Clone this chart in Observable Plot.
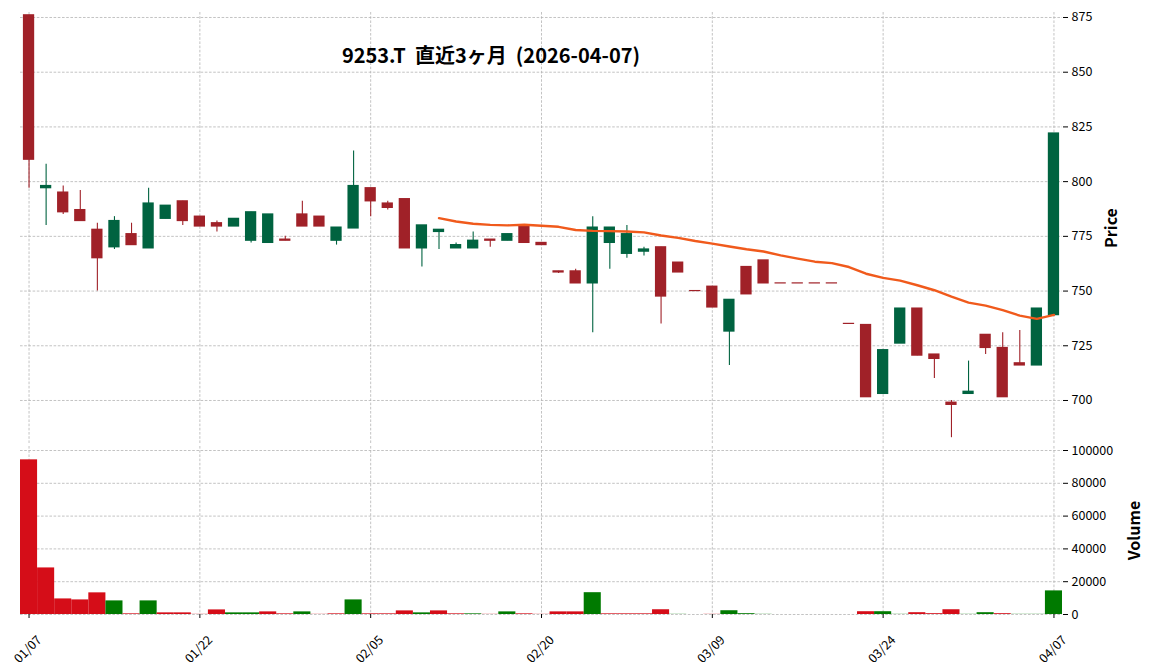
<!DOCTYPE html>
<html><head><meta charset="utf-8">
<script src="https://cdn.jsdelivr.net/npm/d3@7"></script>
<script src="https://cdn.jsdelivr.net/npm/@observablehq/plot@0.6"></script>
<style>
body{margin:0;background:#fff;}
#wrap{position:relative;width:1152px;height:670px;font-family:"Noto Sans CJK JP","Noto Sans",sans-serif;background:#fff;}
#title{position:absolute;left:491px;top:40px;transform:translateX(-50%);font-size:20px;font-weight:bold;white-space:pre;color:#000;line-height:30px;}
#price{position:absolute;left:0;top:0;}
#vol{position:absolute;left:0;top:446px;}
</style></head><body>
<div id="wrap"><div id="price"></div><div id="vol"></div><div id="title">9253.T  直近3ヶ月  (2026-04-07)</div></div>
<script>
const dates = ["01/07","01/08","01/09","01/13","01/14","01/15","01/16","01/19","01/20","01/21",
  "01/22","01/23","01/26","01/27","01/28","01/29","01/30","02/02","02/03","02/04",
  "02/05","02/06","02/09","02/10","02/12","02/13","02/16","02/17","02/18","02/19",
  "02/20","02/24","02/25","02/26","02/27","03/02","03/03","03/04","03/05","03/06",
  "03/09","03/10","03/11","03/12","03/13","03/16","03/17","03/18","03/19","03/23",
  "03/24","03/25","03/26","03/27","03/30","03/31","04/01","04/02","04/03","04/06","04/07"];
const open = [876,797,795,787,778,770,776,769.5,783,791,
  784,781,779.5,773,772,773.5,785,784,773,778.6,
  797,790,792,769.5,777,769.5,769.5,773.5,773,780,
  772,759,759,753.5,772,767,768,770,763,750,
  752,731.5,761,764,753.5,753.5,753.5,753.5,735,734.5,
  703,726,742,721,699,703,730,724,717,716,739];
const high = [876,808,798,796,781,784,781,797,789,791,
  784,782,783,786,785,775,791,784,779,814,
  797,791,792,780,778,772,777,773.5,776,780,
  772,759,760,784,779,780,770,770,763,750,
  752,746,761,764,753.5,753.5,753.5,753.5,735,734.5,
  723,742,742,721,700,718,730,731,732,742,822];
const low = [797,780,785,782,750,769,771,769.5,783,780,
  779.5,777,779.5,772,772,773,779.5,779.5,771,778.6,
  784,787,769.5,761,769,769.5,769.5,770,773,772,
  771,758,753.5,731,760,765,766,735,758.5,750,
  742.5,716,748.5,753.5,753.5,753.5,753.5,753.5,735,701.5,
  703,726,720.5,710,683,703,721,701.5,716,716,739];
const close = [810,798,786,782,765,782,771,790,789,782,
  779.5,779.5,783,786,785,773,779.5,779.5,779,798,
  791,788,769.5,780,778,771,773,773,776,772,
  771,758.5,753.5,779,779,776,769,747.5,758.5,750,
  742.5,746,748.5,753.5,753.5,753.5,753.5,753.5,735,701.5,
  723,742,720.5,719,698,704,724,701.5,716,742,822];
const volume = [94300,28400,9500,8900,13200,8300,400,8300,1000,1000,
  100,2800,1000,1000,1600,400,1600,100,400,8900,
  400,400,2200,1000,2200,400,400,100,1600,400,
  100,1600,1600,13300,400,400,400,2900,100,0,
  100,2300,500,100,0,0,0,0,0,1700,
  1700,100,1100,500,2900,100,1100,500,100,100,14400];
const mavPeriod = 25;
const tickIdx = [0,10,20,30,40,50,60];
const priceTicks = [700,725,750,775,800,825,850,875];
const volTicks = [0,20000,40000,60000,80000,100000];

const UP = "#006340", DOWN = "#A02128", VUP = "#007a00", VDOWN = "#d50d18", MAC = "#f05a1c";
const rows = dates.map((d, i) => ({
  i, date: d, o: open[i], h: high[i], l: low[i], c: close[i], v: volume[i],
  col: open[i] < close[i] ? UP : DOWN,
  vcol: (i === 0 ? open[0] < close[0] : close[i - 1] < close[i]) ? VUP : VDOWN
}));
const maRows = rows.filter(r => r.i >= mavPeriod - 1).map(r => ({
  i: r.i, ma: d3.mean(close.slice(r.i - mavPeriod + 1, r.i + 1))
}));

const font = {fontFamily: '"Noto Sans CJK JP","Noto Sans",sans-serif', fontSize: "12.5px", color: "#000", background: "transparent", overflow: "visible"};
const xScale = {type: "linear", domain: [-0.5, 60.5], range: [20, 1062], axis: null};
const grid = {stroke: "#b4b4b4", strokeDasharray: "2.6,1.6", strokeWidth: 0.8, strokeOpacity: 1};

const price = Plot.plot({
  width: 1152, height: 446,
  marginLeft: 20, marginRight: 90, marginTop: 12, marginBottom: 3,
  style: font,
  x: xScale,
  y: {domain: [680.35, 877.28], axis: null},
  marks: [
    Plot.ruleY(priceTicks, grid),
    Plot.ruleX(tickIdx, grid),
    Plot.ruleX(rows, {x: "i", y1: "l", y2: "h", stroke: "col", strokeWidth: 1.1}),
    Plot.rect(rows, {x1: d => d.i - 0.33, x2: d => d.i + 0.33, y1: "o", y2: "c", fill: "col", insetTop: -0.6, insetBottom: -0.6}),
    Plot.line(maRows, {x: "i", y: "ma", stroke: MAC, strokeWidth: 2.4}),
    Plot.axisY(priceTicks, {anchor: "right", tickSize: 5, tickPadding: 4, label: null, fontSize: 12.5}),
    Plot.text(["Price"], {frameAnchor: "right", dx: 49, rotate: -90, textAnchor: "middle", fontSize: 16, fontWeight: "bold"})
  ]
});
document.getElementById("price").appendChild(price);

const vol = Plot.plot({
  width: 1152, height: 224,
  marginLeft: 20, marginRight: 90, marginTop: 0, marginBottom: 56,
  style: font,
  x: xScale,
  y: {domain: [0, 102440], axis: null},
  marks: [
    Plot.ruleY(volTicks, grid),
    Plot.ruleX(tickIdx, grid),
    Plot.rect(rows, {x1: d => d.i - 0.5, x2: d => d.i + 0.5, y1: 0, y2: "v", fill: "vcol"}),
    Plot.axisY(volTicks, {anchor: "right", tickSize: 5, tickPadding: 4, label: null, tickFormat: d3.format("d"), fontSize: 12.5}),
    Plot.axisX(tickIdx, {anchor: "bottom", tickSize: 4, tickFormat: () => "", label: null}),
    Plot.text(tickIdx, {x: d => d, text: d => dates[d], frameAnchor: "bottom", dy: 35, dx: -1, rotate: -45, textAnchor: "middle", lineAnchor: "middle", fontSize: 12.5}),
    Plot.text(["Volume"], {frameAnchor: "right", dx: 72, rotate: -90, textAnchor: "middle", fontSize: 16, fontWeight: "bold"})
  ]
});
document.getElementById("vol").appendChild(vol);
</script>
</body></html>
